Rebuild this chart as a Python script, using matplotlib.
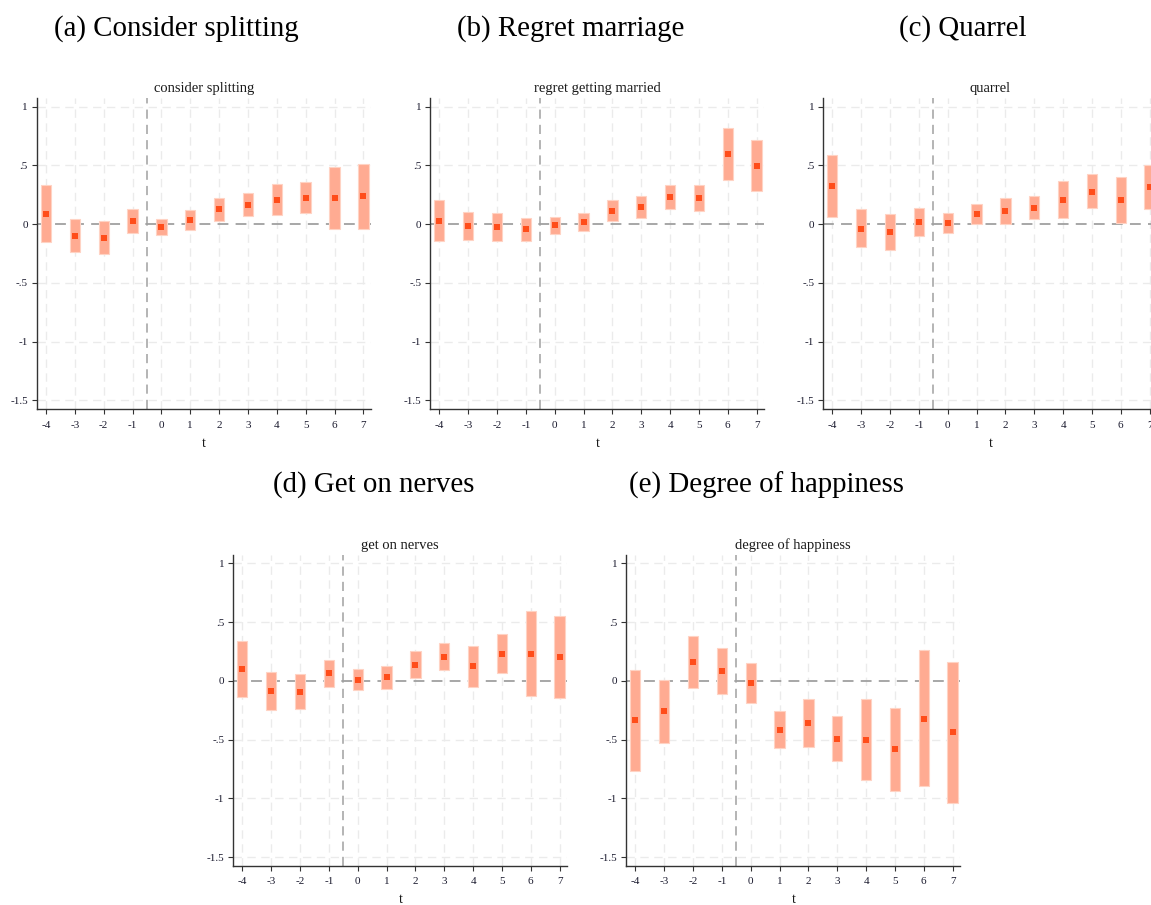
import numpy as np
import matplotlib.pyplot as plt

plt.rcParams['font.family'] = ['Liberation Serif', 'DejaVu Serif']

t = [-4, -3, -2, -1, 0, 1, 2, 3, 4, 5, 6, 7]

# point estimates and 95% CI bounds for each outcome
split_coef = [0.088, -0.099, -0.116, 0.026, -0.028, 0.034, 0.125, 0.165, 0.207, 0.227, 0.222, 0.236]
split_hi = [0.330, 0.040, 0.026, 0.128, 0.043, 0.122, 0.224, 0.264, 0.338, 0.355, 0.486, 0.511]
split_lo = [-0.153, -0.233, -0.253, -0.074, -0.094, -0.051, 0.026, 0.068, 0.080, 0.099, -0.045, -0.040]

regret_coef = [0.028, -0.017, -0.020, -0.045, -0.011, 0.017, 0.116, 0.145, 0.230, 0.222, 0.594, 0.497]
regret_hi = [0.205, 0.102, 0.094, 0.051, 0.060, 0.097, 0.210, 0.241, 0.332, 0.330, 0.815, 0.713]
regret_lo = [-0.145, -0.136, -0.139, -0.139, -0.082, -0.060, 0.026, 0.051, 0.128, 0.114, 0.378, 0.281]

quarrel_coef = [0.324, -0.037, -0.068, 0.017, 0.011, 0.085, 0.108, 0.142, 0.205, 0.278, 0.207, 0.313]
quarrel_hi = [0.585, 0.125, 0.085, 0.142, 0.099, 0.173, 0.219, 0.241, 0.364, 0.429, 0.400, 0.500]
quarrel_lo = [0.065, -0.196, -0.216, -0.099, -0.074, 0.000, 0.002, 0.043, 0.054, 0.134, 0.014, 0.128]

nerves_coef = [0.102, -0.085, -0.097, 0.063, 0.009, 0.028, 0.136, 0.205, 0.122, 0.230, 0.230, 0.205]
nerves_hi = [0.341, 0.077, 0.054, 0.176, 0.099, 0.122, 0.253, 0.321, 0.295, 0.395, 0.594, 0.554]
nerves_lo = [-0.136, -0.247, -0.241, -0.054, -0.082, -0.068, 0.020, 0.091, -0.051, 0.068, -0.128, -0.145]

happy_coef = [-0.338, -0.261, 0.156, 0.080, -0.023, -0.418, -0.361, -0.494, -0.503, -0.582, -0.321, -0.438]
happy_hi = [0.091, 0.009, 0.381, 0.276, 0.148, -0.261, -0.156, -0.301, -0.159, -0.233, 0.259, 0.162]
happy_lo = [-0.767, -0.531, -0.065, -0.116, -0.193, -0.574, -0.565, -0.679, -0.844, -0.935, -0.895, -1.037]

yticks = [1, 0.5, 0, -0.5, -1, -1.5]
ytick_labels = ['1', '.5', '0', '-.5', '-1', '-1.5']

W, H = 1151, 905
fig = plt.figure(figsize=(W / 100, H / 100), dpi=100)

panels = [
    # left px, top px, inner title, caption, caption centre (x, y) px, data
    (37, 98, 'consider splitting', '(a) Consider splitting', (176, 29), split_coef, split_lo, split_hi),
    (430.3, 98, 'regret getting married', '(b) Regret marriage', (571, 29), regret_coef, regret_lo, regret_hi),
    (823.3, 98, 'quarrel', '(c) Quarrel', (963, 29), quarrel_coef, quarrel_lo, quarrel_hi),
    (233.3, 554.6, 'get on nerves', '(d) Get on nerves', (374, 485), nerves_coef, nerves_lo, nerves_hi),
    (626.3, 554.6, 'degree of happiness', '(e) Degree of happiness', (766, 485), happy_coef, happy_lo, happy_hi),
]

ax_w, ax_h = 334, 311

for left, top, title, caption, cpos, coef, lo, hi in panels:
    ax = fig.add_axes([left / W, 1 - (top + ax_h) / H, ax_w / W, ax_h / H])
    x = np.array(t)
    lo = np.array(lo)
    hi = np.array(hi)

    ax.set_xlim(-4.312, 7.265)
    ax.set_ylim(-1.573, 1.074)

    # light dashed grid
    for yv in yticks:
        if yv != 0:
            ax.axhline(yv, color='#ebebeb', lw=1, ls=(0, (6, 4)), zorder=0)
    for xv in t:
        ax.axvline(xv, color='#ebebeb', lw=1, ls=(0, (6, 4)), zorder=0)

    ax.axhline(0, color='#a0a0a0', lw=1.3, ls=(0, (6, 4)), zorder=1)
    ax.axvline(-0.5, color='#a0a0a0', lw=1.1, ls=(0, (6, 4)), zorder=1)

    ax.bar(x, hi - lo, bottom=lo, width=0.36, color='#ffab92',
           edgecolor='#ffd3c4', linewidth=0.8, zorder=2)
    ax.plot(x, coef, 's', color='#ff4d1a', markersize=4.0, markeredgewidth=0, zorder=3)

    ax.set_xticks(t)
    ax.set_xticklabels([str(v) for v in t])
    ax.set_yticks(yticks)
    ax.set_yticklabels(ytick_labels)
    ax.tick_params(labelsize=8, length=3.5, width=0.8, color='#333333',
                   labelcolor='#1a1a2e')
    ax.tick_params(axis='x', pad=5)
    ax.tick_params(axis='y', pad=3)
    for side in ['top', 'right']:
        ax.spines[side].set_visible(False)
    for side in ['left', 'bottom']:
        ax.spines[side].set_color('#333333')
        ax.spines[side].set_linewidth(1.0)

    ax.set_xlabel('t', fontsize=10, labelpad=5, color='#1a1a1a')
    ax.set_title(title, fontsize=10.5, pad=4, color='#1a1a1a')

    fig.text(cpos[0] / W, 1 - cpos[1] / H, caption, fontsize=20.8,
             ha='center', va='center', color='black')

fig.savefig('out.png', dpi=100)
